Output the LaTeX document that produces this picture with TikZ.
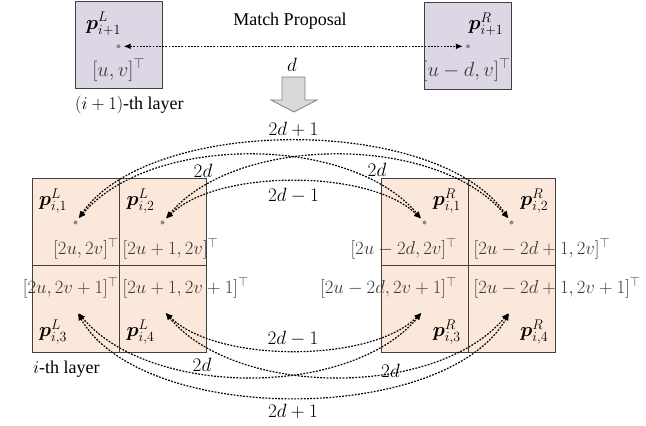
\RequirePackage{fix-cm}
\documentclass[tikz,border=0pt]{standalone}
\usepackage{amsmath}
\usepackage{bm}
\usepackage{fontspec}
\setmainfont{Liberation Serif}
\usetikzlibrary{arrows.meta}
\definecolor{lav}{HTML}{DCD6E5}
\definecolor{peach}{HTML}{FCE8DA}
\definecolor{edgec}{HTML}{404040}
\definecolor{coordc}{HTML}{3A3A3A}
\definecolor{dotc}{HTML}{8A8A8A}
\definecolor{bigfill}{HTML}{D9D9D9}
\definecolor{bigedge}{HTML}{808080}
\begin{document}
\begin{tikzpicture}[x=1pt,y=1pt,
  topbox/.style={draw=edgec, fill=lav, line width=1pt, minimum width=87pt, minimum height=87pt, inner sep=0pt},
  cell/.style={draw=edgec, fill=peach, line width=1pt, minimum width=87pt, minimum height=87pt, inner sep=0pt},
  coordlab/.style={text=coordc, inner sep=0pt, font=\fontsize{18.7}{22}\selectfont},
  topcoord/.style={text=coordc, inner sep=0pt, font=\fontsize{20.5}{24}\selectfont},
  plab/.style={inner sep=0pt, font=\fontsize{20}{24}\selectfont},
  arclab/.style={inner sep=0pt, font=\fontsize{19.2}{23}\selectfont},
  txt/.style={inner sep=0pt, font=\fontsize{18}{22}\selectfont},
  dotn/.style={circle, fill=dotc, inner sep=0pt, minimum size=4pt},
  link/.style={line width=1.2pt, dash pattern=on 1.8pt off 1.4pt,
    {Latex[length=7pt,width=6pt]}-{Latex[length=7pt,width=6pt]}},
  toplink/.style={link, shorten <=3pt, shorten >=3pt},
  botlink/.style={link, shorten <=4.5pt, shorten >=4.5pt}
]
\useasboundingbox (0,0) rectangle (646,426);

% top layer
\node[topbox] (boxL) at (118.5,380.5) {};
\node[topbox] (boxR) at (468,379.5) {};
\node[dotn] (dTL) at (118.5,379.7) {};
\node[dotn] (dTR) at (468,379.7) {};
\node[plab, anchor=west] (pTL) at (86,402) {$\bm{p}^{L}_{i+1}$};
\node[plab, anchor=east] (pTR) at (503.5,401.5) {$\bm{p}^{R}_{i+1}$};
\node[topcoord] (cTL) at (118.7,356) {$[u,v]^{\top}$};
\node[topcoord] (cTR) at (466.5,356) {$[u-d,v]^{\top}$};
\node[txt] (mp) at (290,405) {Match Proposal};
\node[txt, anchor=west] (layer1) at (75,321) {$(i+1)$-th layer};
\draw[toplink] (dTL) -- (dTR);

% down arrow
\node[arclab] (dlab) at (292,361) {$d$};
\draw[draw=bigedge, fill=bigfill, line width=0.8pt]
  (282,349) -- (305,349) -- (305,326) -- (317,326) -- (294,314) -- (271,326) -- (282,326) -- cycle;

% bottom grid
\node[cell] (L1) at (75.5,203.5) {};
\node[cell] (L2) at (162.5,203.5) {};
\node[cell] (L3) at (75.5,116.5) {};
\node[cell] (L4) at (162.5,116.5) {};
\node[cell] (R1) at (424.5,203.5) {};
\node[cell] (R2) at (511.5,203.5) {};
\node[cell] (R3) at (424.5,116.5) {};
\node[cell] (R4) at (511.5,116.5) {};

\node[dotn] (dL1) at (75.5,203.5) {};
\node[dotn] (dL2) at (162.5,203.5) {};
\node[dotn] (dR1) at (424.5,203.5) {};
\node[dotn] (dR2) at (511.5,203.5) {};
\coordinate (dL3) at (75.5,116.5);
\coordinate (dL4) at (162.5,116.5);
\coordinate (dR3) at (424.5,116.5);
\coordinate (dR4) at (511.5,116.5);

% p labels
\node[plab, anchor=west] at (39,225) {$\bm{p}^{L}_{i,1}$};
\node[plab, anchor=west] at (126.5,225) {$\bm{p}^{L}_{i,2}$};
\node[plab, anchor=east] at (461,225) {$\bm{p}^{R}_{i,1}$};
\node[plab, anchor=east] at (548.5,225) {$\bm{p}^{R}_{i,2}$};
\node[plab, anchor=west] at (39,94) {$\bm{p}^{L}_{i,3}$};
\node[plab, anchor=west] at (126.5,94) {$\bm{p}^{L}_{i,4}$};
\node[plab, anchor=east] at (461,94) {$\bm{p}^{R}_{i,3}$};
\node[plab, anchor=east] at (548.5,94) {$\bm{p}^{R}_{i,4}$};

% coordinate labels
\node[coordlab, anchor=east] at (118.8,177) {$[2u,2v]^{\top}$};
\node[coordlab, anchor=west] at (122.5,177) {$[2u+1,2v]^{\top}$};
\node[coordlab, anchor=east] at (457,177) {$[2u-2d,2v]^{\top}$};
\node[coordlab, anchor=west] at (473.5,177) {$[2u-2d+1,2v]^{\top}$};
\node[coordlab, anchor=east] at (118.8,138.5) {$[2u,2v+1]^{\top}$};
\node[coordlab, anchor=west] at (122.5,138.5) {$[2u+1,2v+1]^{\top}$};
\node[coordlab, anchor=east] at (457,138.5) {$[2u-2d,2v+1]^{\top}$};
\node[coordlab, anchor=west] at (473.5,138.5) {$[2u-2d+1,2v+1]^{\top}$};

\node[txt, anchor=west] (layer0) at (33,57) {$i$-th layer};

% top arcs
\draw[toplink] (dL1) .. controls +(55:131pt) and +(125:131pt) .. (dR2);
\draw[toplink] (dL1) .. controls +(50:115.7pt) and +(130:115.7pt) .. (dR1);
\draw[toplink] (dL2) .. controls +(50:115.7pt) and +(130:115.7pt) .. (dR2);
\draw[toplink] (dL2) .. controls +(45:76pt) and +(135:76pt) .. (dR1);

% bottom arcs
\draw[botlink] (dL3) .. controls +(-60:134pt) and +(-120:134pt) .. (dR4);
\draw[botlink] (dL3) .. controls +(-50:115.7pt) and +(-130:115.7pt) .. (dR3);
\draw[botlink] (dL4) .. controls +(-50:115.7pt) and +(-130:115.7pt) .. (dR4);
\draw[botlink] (dL4) .. controls +(-45:76pt) and +(-135:76pt) .. (dR3);

% arc labels
\node[arclab] at (293.5,297) {$2d+1$};
\node[arclab] at (203,255.5) {$2d$};
\node[arclab] at (377,256) {$2d$};
\node[arclab] at (293.5,230.5) {$2d-1$};
\node[arclab] at (293,87) {$2d-1$};
\node[arclab] at (202,61) {$2d$};
\node[arclab] at (390.5,55.5) {$2d$};
\node[arclab] at (293,14.5) {$2d+1$};
\end{tikzpicture}
\end{document}
